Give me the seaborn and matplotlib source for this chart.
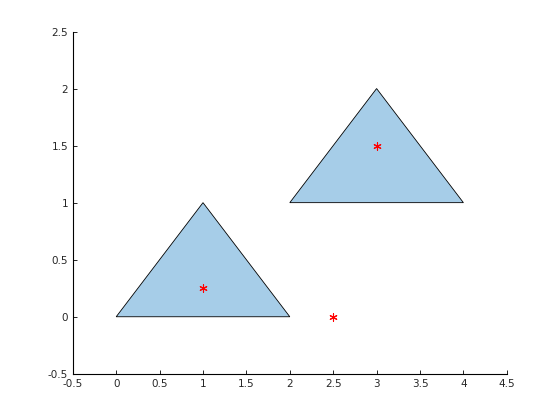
import matplotlib
matplotlib.use("Agg")
import matplotlib.pyplot as plt
import seaborn as sns
import pandas as pd

# Triangle vertices
tri1_x = [0, 2, 1]
tri1_y = [0, 0, 1]
tri2_x = [2, 4, 3]
tri2_y = [1, 1, 2]

# Red star points
pts_x = [1, 3, 2.5]
pts_y = [0.25, 1.5, 0]

xticks = [-0.5, 0, 0.5, 1, 1.5, 2, 2.5, 3, 3.5, 4, 4.5]
yticks = [-0.5, 0, 0.5, 1, 1.5, 2, 2.5]

sns.set_style("white")
plt.rcParams['font.family'] = ['DejaVu Sans']

fig = plt.figure(figsize=(5.6, 4.2), dpi=100)
ax = fig.add_axes([0.13, 0.11, 0.775, 0.815])

fill_color = "#a6cde8"
for tx, ty in [(tri1_x, tri1_y), (tri2_x, tri2_y)]:
    ax.fill(tx, ty, facecolor=fill_color, edgecolor="black", linewidth=0.6, zorder=1)

df = pd.DataFrame({"x": pts_x, "y": pts_y})
sns.scatterplot(data=df, x="x", y="y", ax=ax, marker=(6, 2, 0), s=28,
                color="red", linewidth=0.8, edgecolor="red", zorder=3)

ax.set_xlim(-0.5, 4.5)
ax.set_ylim(-0.5, 2.5)
ax.set_xticks(xticks)
ax.set_yticks(yticks)
ax.set_xticklabels([f"{v:g}" for v in xticks])
ax.set_yticklabels([f"{v:g}" for v in yticks])
ax.set_xlabel("")
ax.set_ylabel("")
for s in ["top", "right"]:
    ax.spines[s].set_visible(False)
for s in ["left", "bottom"]:
    ax.spines[s].set_color("black")
    ax.spines[s].set_linewidth(0.8)
ax.tick_params(direction="in", length=3, width=0.6, labelsize=7.5,
               labelcolor="#262626", color="black", left=True, bottom=True)

fig.savefig("out.png", dpi=100)
